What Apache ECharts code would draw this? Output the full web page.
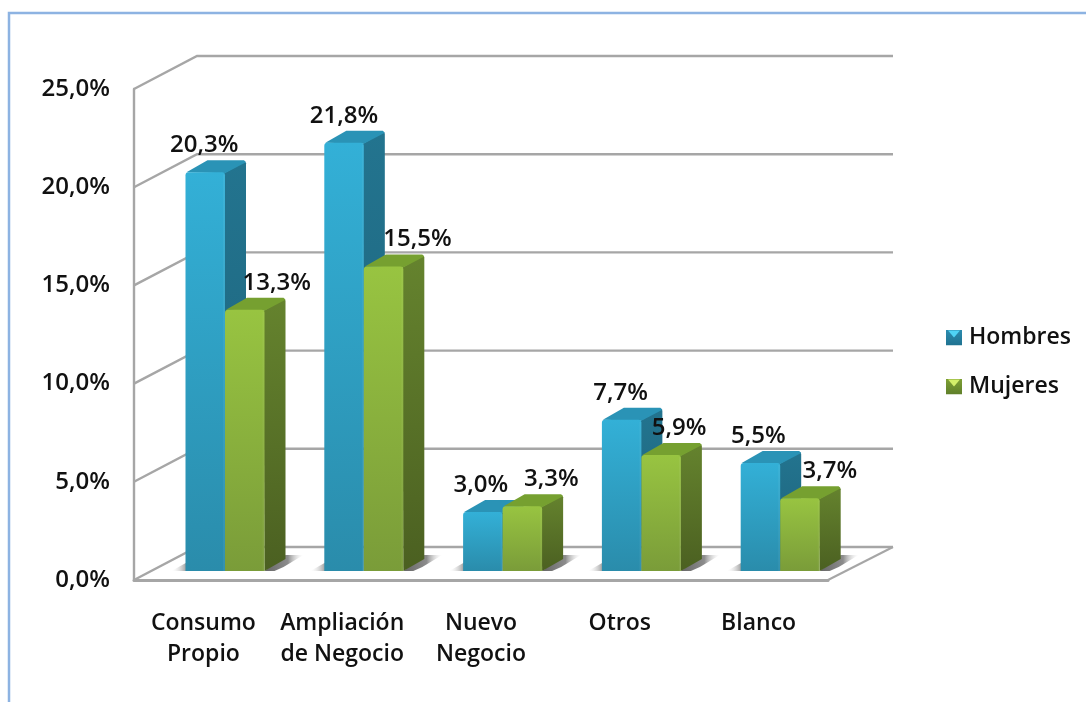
<!DOCTYPE html>
<html>
<head>
<meta charset="utf-8">
<style>html,body{margin:0;padding:0;background:#fff}#c{width:1086px;height:702px;filter:blur(0.45px)}</style>
<script src="https://cdn.jsdelivr.net/npm/echarts@6/dist/echarts.min.js"></script>
</head>
<body>
<div id="c"></div>
<script>
const categories = ['Consumo\nPropio', 'Ampliación\nde Negocio', 'Nuevo\nNegocio', 'Otros', 'Blanco'];
const hombres = [20.3, 21.8, 3.0, 7.7, 5.5];
const mujeres = [13.3, 15.5, 3.3, 5.9, 3.7];
const yTicks = [0, 5, 10, 15, 20, 25];

// Hand-placed label nudges of the original (px from bar centre)
const mujeresLabelDx = [32, 34, 29, 18, 30];
const hombresLabelDx = [-1, 0, -2, -1, -2];

const FONT = '"Open Sans"';
const TXT = '#111';
const fmt = v => v.toFixed(1).replace('.', ',') + '%';
const LINE = '#a6a6a6';
const WALL = { dx: 63, dy: 33 };
const BAR = { w: 39.5, dx: 21, dy: 12, shift: 21.6, lift: 9 };

const vgrad = (a, b) => ({ type: 'linear', x: 0, y: 0, x2: 0, y2: 1, colorStops: [{ offset: 0, color: a }, { offset: 1, color: b }] });
const PAL = {
  Hombres: { front: vgrad('#33b0d7', '#2a8cab'), edge: 'rgba(255,255,255,0.05)', side: vgrad('#23748f', '#1c6179'), top: '#2a93b6' },
  Mujeres: { front: vgrad('#98c441', '#7a9c39'), edge: 'rgba(255,255,255,0.05)', side: vgrad('#65832e', '#4b6021'), top: '#76a030' }
};
const icon = (dark, mid, light) => 'image://data:image/svg+xml;utf8,' + encodeURIComponent(
  `<svg xmlns="http://www.w3.org/2000/svg" width="16" height="16"><defs><linearGradient id="g" x1="0" y1="0" x2="0" y2="1"><stop offset="0" stop-color="${mid}"/><stop offset="1" stop-color="${dark}"/></linearGradient></defs><rect width="16" height="16" fill="url(#g)"/><path d="M2 1H14L8 8Z" fill="${light}"/></svg>`);

function barItem(name, offsetSign) {
  return function (params, api) {
    const p = PAL[name];
    const i = api.value(0);
    const base = api.coord([i, 0]);
    const top = api.coord([i, api.value(1)]);
    const cx = base[0] + BAR.shift;
    const x0 = offsetSign < 0 ? cx - BAR.w : cx;
    const x1 = x0 + BAR.w;
    const yb = base[1] - BAR.lift;
    const yt = top[1] - BAR.lift;
    return {
      type: 'group',
      children: [
        { type: 'polygon', shape: { points: [[x1 - 1, yt + 1], [x1 + BAR.dx - 1, yt - BAR.dy + 1], [x1 + BAR.dx, yt - BAR.dy + 3], [x1 + BAR.dx, yb - BAR.dy], [x1, yb]] }, style: { fill: p.side } },
        { type: 'polygon', shape: { points: [[x0 + 1, yt], [x0 + BAR.dx + 1, yt - BAR.dy], [x1 + BAR.dx - 2, yt - BAR.dy], [x1 + BAR.dx, yt - BAR.dy + 2], [x1, yt + 1]] }, style: { fill: p.top } },
        { type: 'rect', shape: { x: x0, y: yt, width: BAR.w, height: yb - yt, r: [3, 3, 0, 0] }, style: { fill: p.front } },
        { type: 'rect', shape: { x: x1 - 2, y: yt + 2, width: 2, height: yb - yt - 2 }, style: { fill: p.edge } }
      ]
    };
  };
}

function wallItem(params, api) {
  const v = api.value(1);
  const c = api.coord([0, v]);
  const g = params.coordSys;
  const xb = g.x + WALL.dx;
  const yb = c[1] - WALL.dy;
  const xr = g.x + g.width + WALL.dx + 2;
  const children = [{
    type: 'polyline',
    shape: { points: [[g.x, c[1]], [xb, yb], [xr, yb]] },
    style: { fill: null, stroke: LINE, lineWidth: 2.4 }
  }];
  if (v === 0) {
    children.push({
      type: 'line',
      shape: { x1: g.x + g.width, y1: c[1], x2: xr, y2: yb },
      style: { stroke: LINE, lineWidth: 2 }
    });
  }
  return { type: 'group', children };
}

function shadowItem(params, api) {
  const i = api.value(0);
  const base = api.coord([i, 0]);
  const cx = base[0] + BAR.shift;
  const yb = base[1] - BAR.lift;
  const L = cx - BAR.w, R = cx + BAR.w;
  const rg = { type: 'linear', x: 0, y: 0, x2: 1, y2: 0, colorStops: [{ offset: 0, color: '#666' }, { offset: 0.6, color: '#8c8c8c' }, { offset: 1, color: 'rgba(255,255,255,0.2)' }] };
  const lg = { type: 'linear', x: 0, y: 0, x2: 1, y2: 0, colorStops: [{ offset: 0, color: 'rgba(255,255,255,0.1)' }, { offset: 1, color: '#8c8c8c' }] };
  return {
    type: 'group',
    children: [
      { type: 'polygon', shape: { points: [[L - 14, yb], [L + 2, yb - 9], [L + 2, yb]] }, style: { fill: lg } },
      { type: 'polygon', shape: { points: [[R, yb], [R + BAR.dx, yb - 16], [R + BAR.dx + 18, yb - 16], [R + BAR.dx - 2, yb - 4], [R + 10, yb]] }, style: { fill: rg } }
    ]
  };
}

function labelItem(dxs, sign) {
  return function (params, api) {
    const i = api.value(0);
    const v = api.value(1);
    const top = api.coord([i, v]);
    const base = api.coord([i, 0]);
    const cx = base[0] + BAR.shift + sign * BAR.w / 2 + dxs[i];
    return {
      type: 'text',
      z2: 50,
      style: {
        x: cx, y: top[1] - BAR.lift - 27,
        text: fmt(v), align: 'center', verticalAlign: 'middle',
        font: '600 24px ' + FONT, fill: TXT
      }
    };
  };
}

const points = arr => arr.map((v, i) => [i, v]);
const customBase = { type: 'custom', silent: true, clip: false, encode: { x: 0, y: 1 } };

const option = {
  animation: false,
  backgroundColor: '#fff',
  grid: { left: 134, top: 89, width: 694, height: 491, containLabel: false },
  legend: {
    left: 946, top: 326, padding: 0, orient: 'vertical', itemWidth: 16, itemHeight: 16, itemGap: 26,
    selectedMode: false,
    textStyle: { fontFamily: FONT, fontSize: 23, fontWeight: 600, color: TXT, padding: [0, 0, 0, 2] },
    data: [
      { name: 'Hombres', icon: icon('#1f7290', '#2c8cb0', '#4fd3f5') },
      { name: 'Mujeres', icon: icon('#5f7f2a', '#7ea035', '#d3ee6a') }
    ]
  },
  xAxis: {
    type: 'category', data: categories, boundaryGap: true,
    axisLine: { lineStyle: { color: LINE, width: 3 } }, axisTick: { show: false },
    axisLabel: { interval: 0, margin: 28, fontFamily: FONT, fontSize: 23, fontWeight: 600, color: TXT, lineHeight: 31 }
  },
  yAxis: {
    type: 'value', min: 0, max: 25, interval: 5,
    axisLine: { show: true, lineStyle: { color: LINE, width: 2.4 } }, axisTick: { show: false },
    splitLine: { show: false },
    axisLabel: { margin: 24, fontFamily: FONT, fontSize: 24, fontWeight: 600, color: TXT, formatter: fmt }
  },
  graphic: [{
    type: 'polyline', silent: true, z: -1,
    shape: { points: [[9, 702], [9, 13], [1086, 13]] },
    style: { fill: null, stroke: '#8db3e2', lineWidth: 2.5 }
  }],
  series: [
    Object.assign({}, customBase, { name: 'pared', z: 1, data: yTicks.map(t => [0, t]), renderItem: wallItem }),
    Object.assign({}, customBase, { name: 'sombra', z: 2, data: points(hombres), renderItem: shadowItem }),
    Object.assign({}, customBase, { name: 'Hombres', z: 3, itemStyle: { color: '#2c8cb0' }, data: points(hombres), renderItem: barItem('Hombres', -1) }),
    Object.assign({}, customBase, { name: 'Mujeres', z: 4, itemStyle: { color: '#7ea035' }, data: points(mujeres), renderItem: barItem('Mujeres', 1) }),
    Object.assign({}, customBase, { name: 'etiquetasH', z: 5, data: points(hombres), renderItem: labelItem(hombresLabelDx, -1) }),
    Object.assign({}, customBase, { name: 'etiquetasM', z: 5, data: points(mujeres), renderItem: labelItem(mujeresLabelDx, 1) })
  ]
};
echarts.init(document.getElementById('c')).setOption(option);
</script>
</body>
</html>
